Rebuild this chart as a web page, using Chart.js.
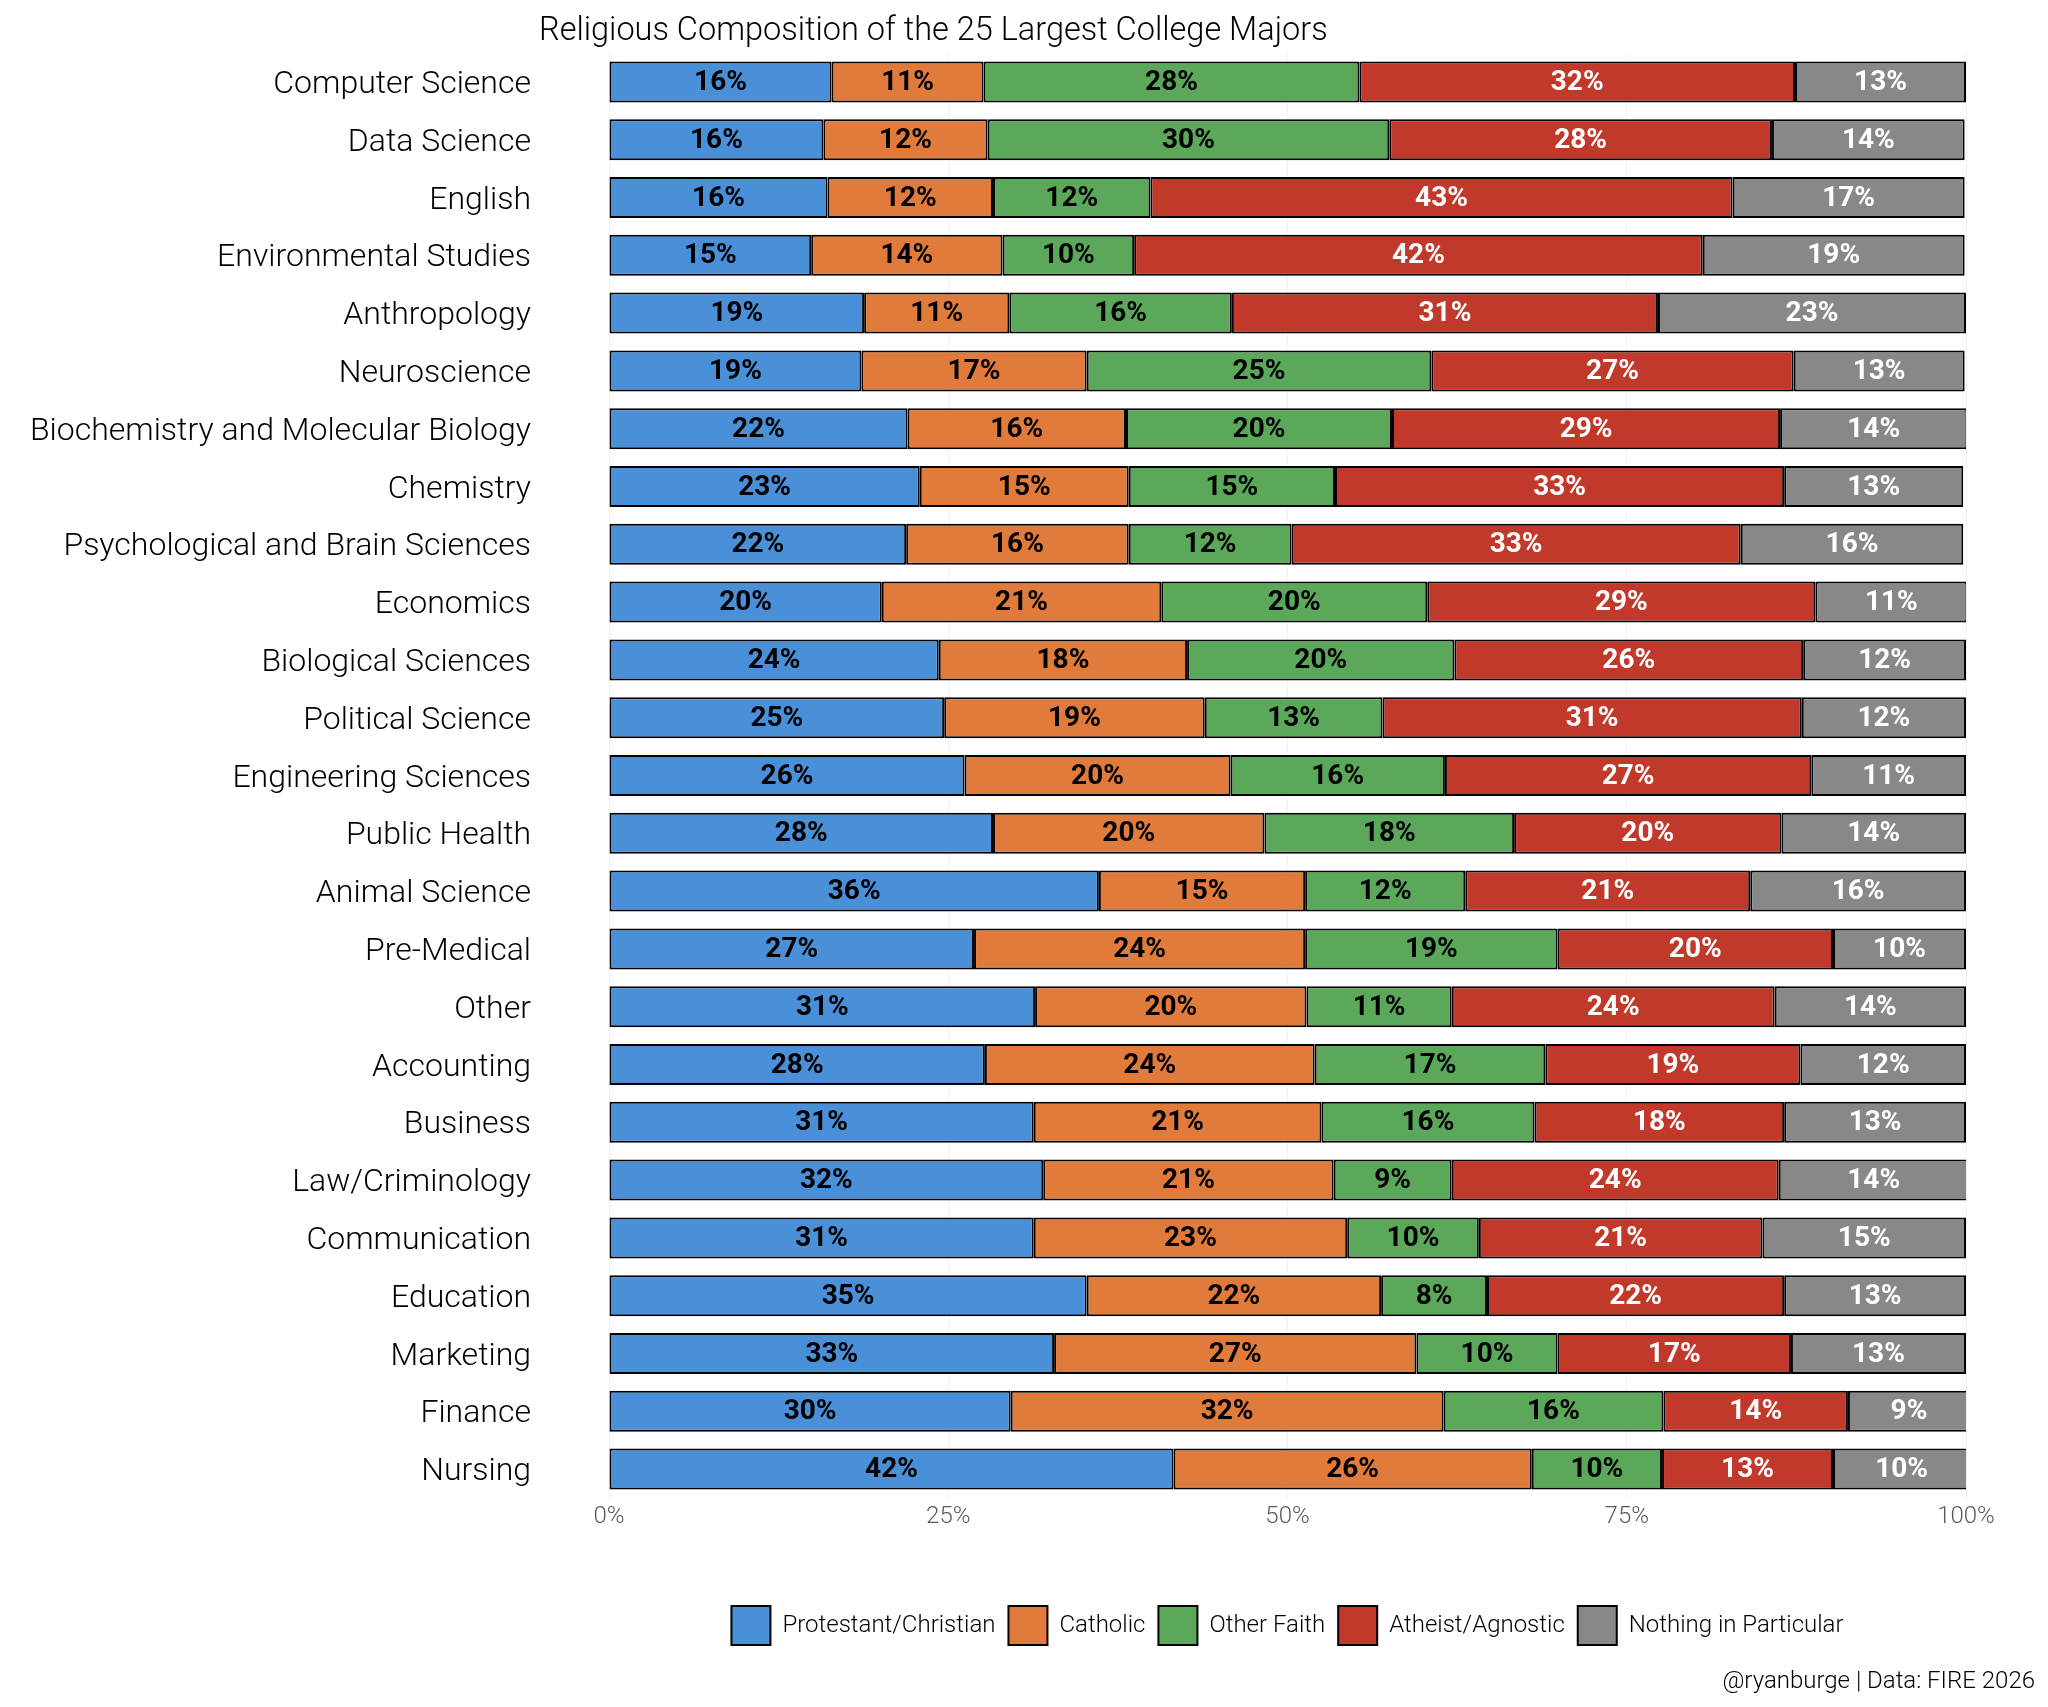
<!DOCTYPE html>
<html>
<head>
<meta charset="utf-8">
<script src="https://cdn.jsdelivr.net/npm/chart.js@4.4.1/dist/chart.umd.min.js"></script>
<style>
  html, body { margin: 0; padding: 0; background: #fff; }
  #wrap { width: 2048px; height: 1707px; }
</style>
</head>
<body>
<div id="wrap"><canvas id="myChart"></canvas></div>
<script>
// Majors, top to bottom
var majors = [
    'Computer Science', 'Data Science', 'English', 'Environmental Studies', 'Anthropology',
    'Neuroscience', 'Biochemistry and Molecular Biology', 'Chemistry', 'Psychological and Brain Sciences',
    'Economics', 'Biological Sciences', 'Political Science', 'Engineering Sciences', 'Public Health',
    'Animal Science', 'Pre-Medical', 'Other', 'Accounting', 'Business', 'Law/Criminology',
    'Communication', 'Education', 'Marketing', 'Finance', 'Nursing'
];

// Shares (%) per group
var protestant = [16.4, 15.8, 16.1, 14.9, 18.8, 18.6, 22.0, 22.9, 21.9, 20.1, 24.3, 24.7, 26.2, 28.3, 36.1, 26.9, 31.4, 27.7, 31.3, 32.0, 31.3, 35.2, 32.8, 29.6, 41.6];
var catholic   = [11.2, 12.1, 12.2, 14.1, 10.7, 16.6, 16.1, 15.4, 16.4, 20.6, 18.3, 19.2, 19.6, 20.0, 15.2, 24.4, 20.0, 24.3, 21.2, 21.4, 23.1, 21.7, 26.7, 31.9, 26.4];
var otherFaith = [27.7, 29.6, 11.6, 9.7, 16.4, 25.4, 19.6, 15.2, 12.0, 19.6, 19.7, 13.1, 15.8, 18.4, 11.8, 18.6, 10.7, 17.0, 15.7, 8.7, 9.7, 7.8, 10.4, 16.2, 9.6];
var atheist    = [32.1, 28.2, 42.9, 41.9, 31.4, 26.7, 28.6, 33.1, 33.1, 28.6, 25.7, 30.9, 27.0, 19.7, 21.0, 20.3, 23.8, 18.8, 18.4, 24.1, 20.9, 21.9, 17.2, 13.6, 12.6];
var nothing    = [12.6, 14.2, 17.1, 19.3, 22.7, 12.6, 13.8, 13.2, 16.4, 11.2, 12.0, 12.1, 11.4, 13.6, 15.9, 9.8, 14.1, 12.2, 13.4, 14.0, 15.0, 13.4, 12.9, 9.0, 10.1];

var groups = ['Protestant/Christian', 'Catholic', 'Other Faith', 'Atheist/Agnostic', 'Nothing in Particular'];
var xTicks = [0, 25, 50, 75, 100];

var FONT = 'Roboto, "Open Sans", "DejaVu Sans", sans-serif';

// percent labels inside each segment
var segLabels = {
    id: 'segLabels',
    afterDatasetsDraw: function(chart) {
        var ctx = chart.ctx;
        ctx.save();
        ctx.font = 'bold 28px ' + FONT;
        ctx.textAlign = 'center';
        ctx.textBaseline = 'middle';
        chart.data.datasets.forEach(function(ds, i) {
            var meta = chart.getDatasetMeta(i);
            ctx.fillStyle = i >= 3 ? '#ffffff' : '#000000';
            meta.data.forEach(function(bar, j) {
                var p = bar.getCenterPoint();
                ctx.fillText(Math.round(ds.data[j]) + '%', p.x, p.y + 1);
            });
        });
        ctx.restore();
    }
};

// title and caption
var texts = {
    id: 'texts',
    afterDraw: function(chart) {
        var ctx = chart.ctx;
        var a = chart.chartArea;
        ctx.save();
        ctx.fillStyle = '#000';
        ctx.textBaseline = 'alphabetic';
        ctx.font = '300 32.5px ' + FONT;
        ctx.textAlign = 'left';
        ctx.fillText('Religious Composition of the 25 Largest College Majors', a.left - 70, 40);
        ctx.font = '300 24px ' + FONT;
        ctx.textAlign = 'right';
        ctx.fillText('@ryanburge | Data: FIRE 2026', chart.width - 13, 1688);
        ctx.restore();
    }
};

var ctx1 = document.getElementById('myChart').getContext('2d');
var myChart = new Chart(ctx1, {
    type: 'bar',
    data: {
        labels: majors,
        datasets: [{
            label: groups[0],
            data: protestant,
            backgroundColor: '#4a90d9'
        }, {
            label: groups[1],
            data: catholic,
            backgroundColor: '#e07b3c'
        }, {
            label: groups[2],
            data: otherFaith,
            backgroundColor: '#5ba85b'
        }, {
            label: groups[3],
            data: atheist,
            backgroundColor: '#c0392b'
        }, {
            label: groups[4],
            data: nothing,
            backgroundColor: '#888888'
        }]
    },
    options: {
        indexAxis: 'y',
        responsive: true,
        maintainAspectRatio: false,
        animation: false,
        devicePixelRatio: 1,
        datasets: {
            bar: {
                borderColor: '#000000',
                borderWidth: 2,
                borderSkipped: false,
                barPercentage: 0.71,
                categoryPercentage: 1
            }
        },
        layout: {
            padding: { top: 53, right: 82, bottom: 52, left: 0 }
        },
        scales: {
            x: {
                stacked: true,
                min: 0,
                max: 100,
                afterBuildTicks: function(scale) {
                    scale.ticks = xTicks.map(function(v) { return { value: v }; });
                },
                afterFit: function(scale) { scale.height = 95; },
                grid: { color: 'rgba(0,0,0,0.05)', drawTicks: false },
                border: { display: false },
                ticks: {
                    padding: 5,
                    color: '#5a5a5a',
                    font: { family: FONT, size: 24, weight: '300' },
                    callback: function(v) { return v + '%'; }
                }
            },
            y: {
                stacked: true,
                afterFit: function(scale) {
                    scale.width = 609;
                    scale.paddingTop = 0;
                    scale.paddingBottom = 0;
                },
                grid: { display: false, drawTicks: false },
                border: { display: false },
                ticks: {
                    padding: 78,
                    labelOffset: 3,
                    color: '#000000',
                    autoSkip: false,
                    font: { family: FONT, size: 32, weight: '300' }
                }
            }
        },
        plugins: {
            legend: {
                position: 'bottom',
                fullSize: false,
                labels: {
                    boxWidth: 39,
                    boxHeight: 39,
                    padding: 13,
                    color: '#000000',
                    font: { family: FONT, size: 24, weight: '300' }
                }
            },
            tooltip: { enabled: false }
        }
    },
    plugins: [segLabels, texts]
});
</script>
</body>
</html>
